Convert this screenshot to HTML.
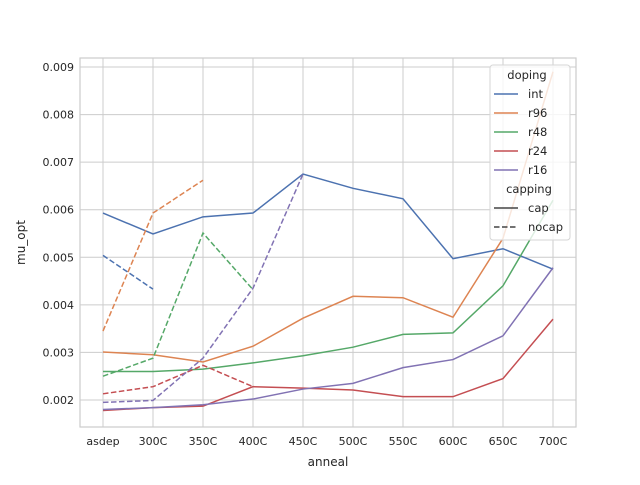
<!DOCTYPE html>
<html><head><meta charset="utf-8"><style>body{margin:0;background:#fff}svg{font-family:"DejaVu Sans","Liberation Sans",sans-serif}</style></head>
<body>
<svg id="c" width="640" height="480"></svg>
<script>
const categories=["asdep","300C","350C","400C","450C","500C","550C","600C","650C","700C"];
const yTicks=[0.002,0.003,0.004,0.005,0.006,0.007,0.008,0.009];
const dopings=["int","r96","r48","r24","r16"];
const colors=["#4c72b0","#dd8452","#55a868","#c44e52","#8172b3"];
const capInt=[0.00593,0.00549,0.00585,0.00593,0.00675,0.00645,0.00623,0.00497,0.00518,0.00475];
const capR96=[0.00301,0.00295,0.00280,0.00313,0.00372,0.00418,0.00415,0.00374,0.00540,0.00890];
const capR48=[0.00260,0.00260,0.00265,0.00278,0.00293,0.00311,0.00338,0.00341,0.00440,0.00620];
const capR24=[0.00178,0.00184,0.00187,0.00228,0.00225,0.00221,0.00207,0.00207,0.00245,0.00370];
const capR16=[0.00180,0.00184,0.00190,0.00202,0.00223,0.00235,0.00268,0.00285,0.00335,0.00478];
const nocapInt=[0.00504,0.00433];
const nocapR96=[0.00345,0.00593,0.00662];
const nocapR48=[0.00250,0.00288,0.00551,0.00432];
const nocapR24=[0.00213,0.00228,0.00273,0.00228];
const nocapR16=[0.00195,0.00199,0.00288,0.00435,0.00675];
const NS="http://www.w3.org/2000/svg";
const svg=document.getElementById('c');
const L=80,R=576,T=58,B=427;
const x=i=>103+i*50;
const y=v=>400-(v-0.002)*47571;
function mk(t,a,p){const e=document.createElementNS(NS,t);for(const k in a)e.setAttribute(k,a[k]);(p||svg).appendChild(e);return e;}
for(let i=0;i<categories.length;i++){
 const g=mk('line',{x1:x(i),x2:x(i),y1:T,y2:B,stroke:'#cccccc','stroke-width':1});
 
 
 const t=mk('text',{x:x(i),y:B+18,'text-anchor':'middle','font-size':11,fill:'#262626'});t.textContent=categories[i];
 
 
}
for(const v of yTicks){
 const g=mk('line',{x1:L,x2:R,y1:y(v),y2:y(v),stroke:'#cccccc','stroke-width':1});
 
 
 const t=mk('text',{x:L-6,y:y(v)+4,'text-anchor':'end','font-size':11,fill:'#262626'});t.textContent=v.toFixed(3);
 
 
}
const fr=mk('rect',{x:L,y:T,width:R-L,height:B-T,fill:'none',stroke:'#cccccc','stroke-width':1.2});


const caps=[capInt,capR96,capR48,capR24,capR16],nocaps=[nocapInt,nocapR96,nocapR48,nocapR24,nocapR16];
function line(arr,c,dash,name){
 const p=mk('polyline',{points:arr.map((v,i)=>x(i)+','+y(v)).join(' '),fill:'none',stroke:c,'stroke-width':1.5,'stroke-dasharray':dash?'5.5,2.5':'none'});
 
 
}
caps.forEach((a,k)=>line(a,colors[k],false,'line-'+dopings[k]+'-cap'));
nocaps.forEach((a,k)=>line(a,colors[k],true,'line-'+dopings[k]+'-nocap'));
const xt=mk('text',{x:(L+R)/2,y:466,'text-anchor':'middle','font-size':12,fill:'#262626'});xt.textContent='anneal';


const yt=mk('text',{x:25,y:(T+B)/2,'text-anchor':'middle','font-size':12,fill:'#262626',transform:'rotate(-90 25 '+((T+B)/2)+')'});yt.textContent='mu_opt';


const lg=mk('g',{});


mk('rect',{x:490,y:65,width:80,height:175,rx:3,fill:'#fff','fill-opacity':0.8,stroke:'#d6d6d6'},lg);
function ltext(s,tx,ty,anchor){const t=mk('text',{x:tx,y:ty,'font-size':11.5,fill:'#262626','text-anchor':anchor||'start'},lg);t.textContent=s;return t;}
ltext('doping',527,79,'middle');
dopings.forEach((d,k)=>{const yy=98+k*19;mk('line',{x1:494,x2:518,y1:yy-4,y2:yy-4,stroke:colors[k],'stroke-width':1.5},lg);const t=ltext(d,528,yy);});
ltext('capping',529,193,'middle');
[['cap',false],['nocap',true]].forEach(([s,d],k)=>{const yy=212+k*19;mk('line',{x1:494,x2:518,y1:yy-4,y2:yy-4,stroke:'#444','stroke-width':1.5,'stroke-dasharray':d?'5.5,2.5':'none'},lg);const t=ltext(s,528,yy);});
</script>
</body></html>
